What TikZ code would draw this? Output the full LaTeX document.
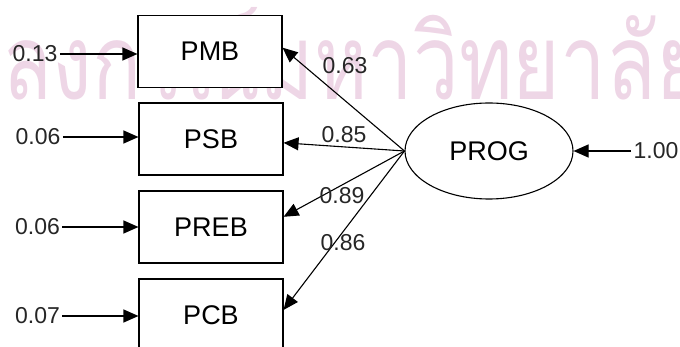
\documentclass[tikz,border=0pt]{standalone}
\usepackage{fontspec}
\setmainfont{Liberation Sans}
\newfontfamily\thaifont[Script=Thai]{Loma}
\usetikzlibrary{arrows.meta,shapes.geometric}
\definecolor{wmpink}{RGB}{238,214,230}

\begin{document}
\begin{tikzpicture}
    [x=1pt,y=-1pt,line width=1.1pt,>={Triangle[length=15pt,width=13pt]},
     var/.style={rectangle,draw,fill=white,minimum width=144pt,minimum height=72pt,font=\fontsize{27}{30}\selectfont},
     latent/.style={ellipse,draw,fill=white,minimum width=168pt,minimum height=96pt,font=\fontsize{27}{30}\selectfont},
     coef/.style={inner sep=2pt,text=black!85,font=\fontsize{23}{26}\selectfont}]
    \useasboundingbox (0,0) rectangle (680,347);
    \clip (0,0) rectangle (680,347);
    % watermark
    \node[anchor=base west,inner sep=0pt,text=wmpink,font=\thaifont\fontsize{105}{110}\selectfont] (wm) at (2,100) {\scalebox{0.775}[1]{ลงกรณ์มหาวิทยาลัย}};

    \node[var] (pmb) at (210,51.5) {PMB};
    \node[var] (psb) at (211,139) {PSB};
    \node[var] (preb) at (211,227) {PREB};
    \node[var] (pcb) at (211,315) {PCB};
    \node[latent] (prog) at (489,151) {PROG};

    % error terms
    \node[coef] (e1) at (35,54) {0.13};
    \node[coef] (e2) at (38,137) {0.06};
    \node[coef] (e3) at (37.5,227) {0.06};
    \node[coef] (e4) at (37.5,316) {0.07};
    \node[coef] (e5) at (656,151) {1.00};

    \draw[->] (e1) -- (pmb.west |- e1);
    \draw[->] (e2) -- (psb.west |- e2);
    \draw[->] (e3) -- (preb.west |- e3);
    \draw[->] (e4) -- (pcb.west |- e4);
    \draw[->] (e5) -- (prog.east);

    % loadings
    \draw[->] (prog.west) -- (pmb.3);
    \draw[->] (prog.west) -- (psb.-3);
    \draw[->] (prog.west) -- (preb.8);
    \draw[->] (prog.west) -- (pcb.4);

    \node[coef] (l1) at (345,66) {0.63};
    \node[coef] (l2) at (344,135) {0.85};
    \node[coef] (l3) at (342,196) {0.89};
    \node[coef] (l4) at (343,243) {0.86};
\end{tikzpicture}
\end{document}
